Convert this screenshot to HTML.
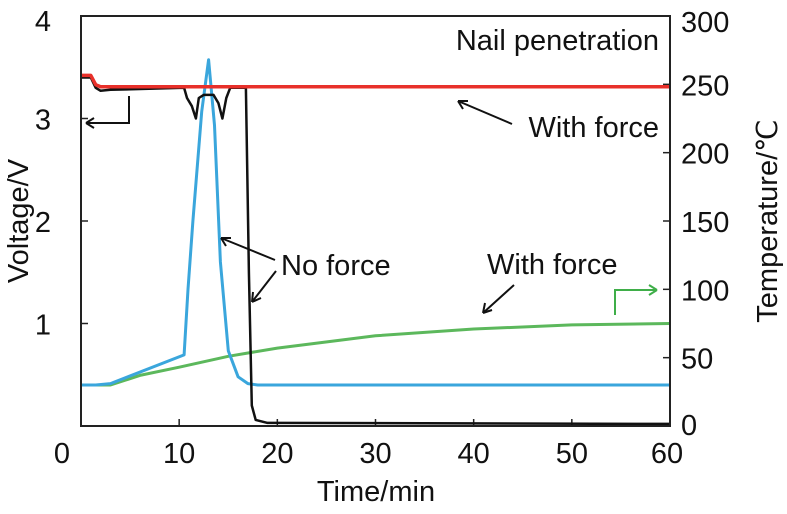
<!DOCTYPE html>
<html><head><meta charset="utf-8"><style>
body{margin:0;background:#fff}
svg text{font-family:"Liberation Sans",sans-serif;fill:#111}
</style></head><body>
<svg width="787" height="509" xmlns="http://www.w3.org/2000/svg">
<g id="ticks"></g>
<g id="marks"></g>
<rect x="81" y="16" width="589" height="410" fill="none" stroke="#222" stroke-width="2"/>
<text x="376" y="501" font-size="29" text-anchor="middle">Time/min</text>
<text transform="translate(28,221) rotate(-90)" font-size="29" text-anchor="middle">Voltage/V</text>
<text transform="translate(777,221) rotate(-90)" font-size="29" text-anchor="middle">Temperature/℃</text>
<text x="659" y="50" font-size="29" text-anchor="end">Nail penetration</text>
<text x="659" y="137" font-size="29" text-anchor="end">With force</text>
<text x="281" y="275" font-size="29">No force</text>
<text x="487" y="274" font-size="29">With force</text>
<g stroke="#111" stroke-width="2" fill="none">
<path d="M512 124 L458 101 M458 101 l10 0 M458 101 l5 8"/>
<path d="M275 260 L221 238 M221 238 l10 0 M221 238 l5 8"/>
<path d="M276 271 L252 302 M252 302 l1 -10 M252 302 l9 -4"/>
<path d="M514 285 L483 313 M483 313 l2 -10 M483 313 l9 -3"/>
<path d="M129 96 V123 H86 M86 123 l8 -5 M86 123 l8 5"/>
</g>
<path d="M615 315 V290 H657 M657 290 l-8 -5 M657 290 l-8 5" stroke="#3fae49" stroke-width="2" fill="none"/>
<script>
const xTicks=[0,10,20,30,40,50,60];
const yLeftTicks=[1,2,3,4];
const yRightTicks=[0,50,100,150,200,250,300];
const redT=[0,1,1.5,2,60];
const redV=[3.42,3.42,3.33,3.31,3.31];
const blackT=[0,1,1.5,2,3,10.5,10.8,11.3,11.7,12,12.5,13.5,14,14.4,14.8,15.2,16.8,17.1,17.4,17.8,19,60];
const blackV=[3.4,3.4,3.3,3.27,3.28,3.3,3.2,3.12,3.0,3.2,3.23,3.23,3.15,3.0,3.2,3.3,3.3,1.5,0.2,0.06,0.03,0.02];
const blueT=[0,1.5,3,10.5,10.9,11.4,12.3,13,13.6,14.2,15,16,17,18,60];
const blueTemp=[30,30,31,52,100,150,230,268,220,120,55,36,31,30,30];
const greenT=[0,3,6,10,15,20,30,40,50,60];
const greenTemp=[30,30,37,43,51,57,66,71,74,75];
const sx=t=>81+t*589/60, syL=v=>426-v*102.5, syR=v=>426-v*410/300;
const NS="http://www.w3.org/2000/svg";
const ticks=document.getElementById('ticks'), marks=document.getElementById('marks');
function mk(tag,attrs,parent,txt){const e=document.createElementNS(NS,tag);for(const k in attrs)e.setAttribute(k,attrs[k]);if(txt!==undefined)e.textContent=txt;parent.appendChild(e);return e;}
xTicks.forEach(t=>{
 const l=mk('line',{x1:sx(t),x2:sx(t),y1:426,y2:419,stroke:'#222','stroke-width':1.5},ticks);
 
 
 const tx=mk('text',{x:t===0?62:(t===60?667:sx(t)),y:463,'font-size':29,'text-anchor':'middle'},ticks,String(t));
 
 
});
yLeftTicks.forEach(v=>{
 const l=mk('line',{x1:81,x2:88,y1:syL(v),y2:syL(v),stroke:'#222','stroke-width':1.5},ticks);
 
 
 const tx=mk('text',{x:51,y:syL(v)+11+(v===4?4:0),'font-size':29,'text-anchor':'end'},ticks,String(v));
 
 
});
yRightTicks.forEach(v=>{
 const l=mk('line',{x1:663,x2:670,y1:syR(v),y2:syR(v),stroke:'#222','stroke-width':1.5},ticks);
 
 
 const tx=mk('text',{x:681,y:syR(v)+11+(v===300?5:0)-(v===0?2:0),'font-size':29},ticks,String(v));
 
 
});
function line(ts,vs,sy,color,w,name){
 const d=ts.map((t,i)=>(i?'L':'M')+sx(t).toFixed(1)+' '+sy(vs[i]).toFixed(1)).join(' ');
 const p=mk('path',{d:d,stroke:color,'stroke-width':w,fill:'none','stroke-linejoin':'round'},marks);
 
 
}
line(greenT,greenTemp,syR,'#5cb85c',3,'temperature-with-force-line');
line(blueT,blueTemp,syR,'#3aa6dc',3,'temperature-no-force-line');
line(blackT,blackV,syL,'#111',2.5,'voltage-no-force-line');
line(redT,redV,syL,'#e8302a',3.5,'voltage-with-force-line');
</script>
</svg>
</body></html>
